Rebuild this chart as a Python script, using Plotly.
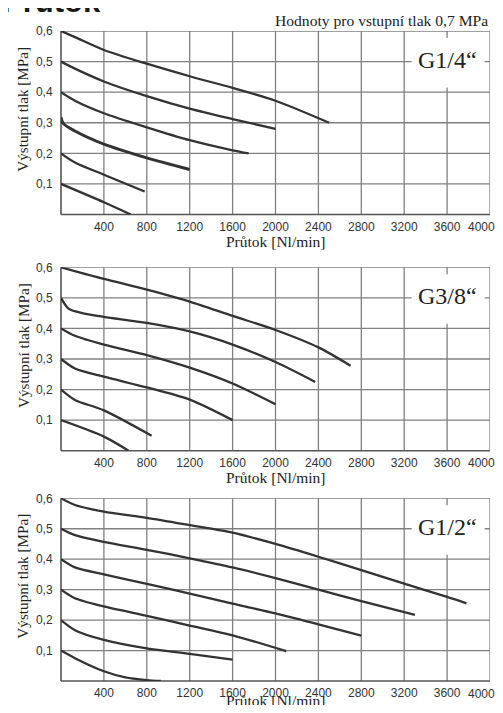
import plotly.graph_objects as go

# ---------------- data ----------------
x_ticks = [400, 800, 1200, 1600, 2000, 2400, 2800, 3200, 3600, 4000]
x_ticklabels = ["400", "800", "1200", "1600", "2000", "2400", "2800", "3200", "3600", "4000"]
y_ticks = [0.1, 0.2, 0.3, 0.4, 0.5, 0.6]
y_ticklabels = ["0,1", "0,2", "0,3", "0,4", "0,5", "0,6"]

panel_labels = ["G1/4\u201c", "G3/8\u201c", "G1/2\u201c"]

# G1/4"
g14_x = [
    [0, 130, 400, 800, 1200, 1600, 2000, 2500],
    [0, 130, 400, 800, 1200, 1600, 2000],
    [0, 130, 400, 800, 1200, 1600, 1750],
    [0, 20, 130, 400, 800, 1200],
    [0, 130, 400, 780],
    [0, 400, 650],
]
g14_y = [
    [0.60, 0.580, 0.538, 0.493, 0.452, 0.414, 0.372, 0.300],
    [0.50, 0.477, 0.435, 0.387, 0.346, 0.312, 0.280],
    [0.40, 0.372, 0.331, 0.285, 0.243, 0.210, 0.200],
    [0.318, 0.298, 0.273, 0.230, 0.185, 0.147],
    [0.20, 0.170, 0.130, 0.075],
    [0.10, 0.040, 0.0],
]

# G3/8"
g38_x = [
    [0, 400, 800, 1200, 1600, 2000, 2400, 2700],
    [0, 70, 190, 400, 800, 1200, 1600, 2000, 2370],
    [0, 130, 400, 800, 1200, 1600, 2000],
    [0, 130, 400, 800, 1200, 1600],
    [0, 130, 400, 845],
    [0, 400, 630],
]
g38_y = [
    [0.60, 0.562, 0.527, 0.488, 0.441, 0.395, 0.338, 0.278],
    [0.50, 0.465, 0.451, 0.438, 0.418, 0.390, 0.347, 0.290, 0.225],
    [0.40, 0.376, 0.347, 0.313, 0.272, 0.220, 0.152],
    [0.30, 0.269, 0.242, 0.207, 0.167, 0.100],
    [0.20, 0.166, 0.132, 0.049],
    [0.10, 0.046, 0.0],
]

# G1/2"
g12_x = [
    [0, 130, 400, 800, 1200, 1600, 2000, 2400, 2800, 3200, 3600, 3780],
    [0, 130, 400, 800, 1200, 1600, 2000, 2400, 2800, 3300],
    [0, 130, 400, 800, 1200, 1600, 2000, 2400, 2800],
    [0, 130, 400, 800, 1200, 1600, 2100],
    [0, 130, 400, 800, 1200, 1600],
    [0, 130, 400, 600, 800, 930],
]
g12_y = [
    [0.60, 0.578, 0.556, 0.536, 0.512, 0.487, 0.450, 0.408, 0.364, 0.320, 0.276, 0.255],
    [0.50, 0.479, 0.457, 0.431, 0.403, 0.373, 0.338, 0.300, 0.262, 0.217],
    [0.40, 0.373, 0.350, 0.319, 0.287, 0.254, 0.222, 0.186, 0.149],
    [0.30, 0.272, 0.245, 0.214, 0.182, 0.150, 0.098],
    [0.20, 0.167, 0.135, 0.107, 0.089, 0.070],
    [0.10, 0.075, 0.032, 0.012, 0.003, 0.0],
]

panels_x = [g14_x, g38_x, g12_x]
panels_y = [g14_y, g38_y, g12_y]

# ---------------- layout geometry ----------------
# the page body adds an 8px margin on every side; size the figure to fit inside
OFF = 8
W, H = 503 - 2 * OFF, 713 - 2 * OFF
PL, PR, PT, PB = 61, 490, 31, 681          # plot block in page pixels
ML, MR, MT, MB = PL - OFF, W - (PR - OFF), PT - OFF, H - (PB - OFF)
PW, PH = PR - PL, PB - PT
px_areas = [(31, 214.5), (267.3, 450.7), (498.3, 681)]
domains = [[(PB - b) / PH, (PB - t) / PH] for t, b in px_areas]
xtitle_gap = [27.5, 26.5, 20]   # last one kept inside the page
TICK_GAP = 12.5


def px_x(px):
    return (px - PL) / PW


def px_y(py):
    return (PB - py) / PH


serif = "Liberation Serif"
sans = "Liberation Sans"
line_col = "#333333"
grid_col = "#808080"
frame_col = "#555555"
tick_font = dict(family=sans, size=12, color="#333333")

fig = go.Figure()

for i in range(3):
    xa = "x" if i == 0 else f"x{i+1}"
    ya = "y" if i == 0 else f"y{i+1}"
    for k, (xs, ys) in enumerate(zip(panels_x[i], panels_y[i])):
        w = 3.0 if (i == 0 and k == 3) else 2.3
        fig.add_trace(go.Scatter(
            x=xs, y=ys, mode="lines", xaxis=xa, yaxis=ya,
            line=dict(color=line_col, width=w, shape="spline", smoothing=0.8),
            showlegend=False, hoverinfo="skip",
        ))

axis_common = dict(
    showgrid=False, showline=False, zeroline=False,
    ticks="outside", tickcolor="rgba(0,0,0,0)",
    tickfont=tick_font,
)

layout = dict(
    width=W, height=H, autosize=False,
    margin=dict(l=ML, r=MR, t=MT, b=MB, pad=0),
    paper_bgcolor="white", plot_bgcolor="white",
    showlegend=False,
)
annotations = []
shapes = []
for i in range(3):
    xk = "xaxis" if i == 0 else f"xaxis{i+1}"
    yk = "yaxis" if i == 0 else f"yaxis{i+1}"
    xa = "x" if i == 0 else f"x{i+1}"
    ya = "y" if i == 0 else f"y{i+1}"
    # the last tick label would run past the page edge: plotly hides it and it is
    # re-drawn just inside the edge, as in the reference
    layout[xk] = dict(axis_common, domain=[0, 1], range=[0, 4000], anchor=ya,
                      tickvals=x_ticks, ticktext=x_ticklabels, ticklen=1)
    layout[yk] = dict(axis_common, domain=domains[i], range=[0, 0.6], anchor=xa,
                      tickvals=y_ticks, ticktext=y_ticklabels, ticklen=5)
    d0, d1 = domains[i]
    annotations.append(dict(
        text=x_ticklabels[-1], xref="paper", yref="paper",
        x=px_x(481), y=d0 - TICK_GAP / PH, xanchor="center", yanchor="middle",
        showarrow=False, font=tick_font,
    ))

    # grid lines at the tick positions (drawn as shapes)
    for xv in x_ticks:
        shapes.append(dict(
            type="line", xref=xa, yref=f"{ya} domain", x0=xv, x1=xv, y0=0, y1=1,
            line=dict(color=grid_col, width=1.3), layer="below",
        ))
    for yv in y_ticks:
        shapes.append(dict(
            type="line", xref=f"{xa} domain", yref=ya, x0=0, x1=1, y0=yv, y1=yv,
            line=dict(color=grid_col, width=1.3), layer="below",
        ))
    # left and bottom frame
    shapes.append(dict(
        type="line", xref=f"{xa} domain", yref=f"{ya} domain", x0=0, x1=0, y0=0, y1=1,
        line=dict(color=frame_col, width=1.6), layer="below",
    ))
    shapes.append(dict(
        type="line", xref=f"{xa} domain", yref=f"{ya} domain", x0=0, x1=1, y0=0, y1=0,
        line=dict(color=frame_col, width=1.6), layer="below",
    ))

    annotations.append(dict(
        text="Průtok [Nl/min]", xref="paper", yref="paper",
        x=0.5, y=d0 - xtitle_gap[i] / PH, xanchor="center", yanchor="middle",
        showarrow=False, font=dict(family=serif, size=15.5, color="#222222"),
    ))
    annotations.append(dict(
        text="Výstupní tlak [MPa]", xref="paper", yref="paper",
        x=px_x(23), y=(d0 + d1) / 2 + 13 / PH,
        xanchor="center", yanchor="middle", textangle=-90,
        showarrow=False, font=dict(family=serif, size=15.2, color="#222222"),
    ))
    shapes.append(dict(
        type="rect", xref=xa, yref=ya, x0=3270, x1=3950, y0=0.415, y1=0.577,
        fillcolor="white", line=dict(width=0), layer="above",
    ))
    annotations.append(dict(
        text=panel_labels[i], xref=xa, yref=ya, x=3600, y=0.505,
        xanchor="center", yanchor="middle", showarrow=False,
        font=dict(family=serif, size=24, color="#222222"),
    ))

annotations.append(dict(
    text="<b>Průtok</b>", xref="paper", yref="paper",
    x=px_x(0), y=px_y(1.7),
    xanchor="left", yanchor="middle", showarrow=False,
    font=dict(family=sans, size=31, color="#1a1a1a"),
))
annotations.append(dict(
    text="Hodnoty pro vstupní tlak 0,7 MPa", xref="paper", yref="paper",
    x=1, y=px_y(20.5), xanchor="right", yanchor="middle",
    showarrow=False, font=dict(family=serif, size=15.6, color="#222222"),
))

layout["annotations"] = annotations
layout["shapes"] = shapes
fig.update_layout(**layout)

fig.write_html("out.html")
